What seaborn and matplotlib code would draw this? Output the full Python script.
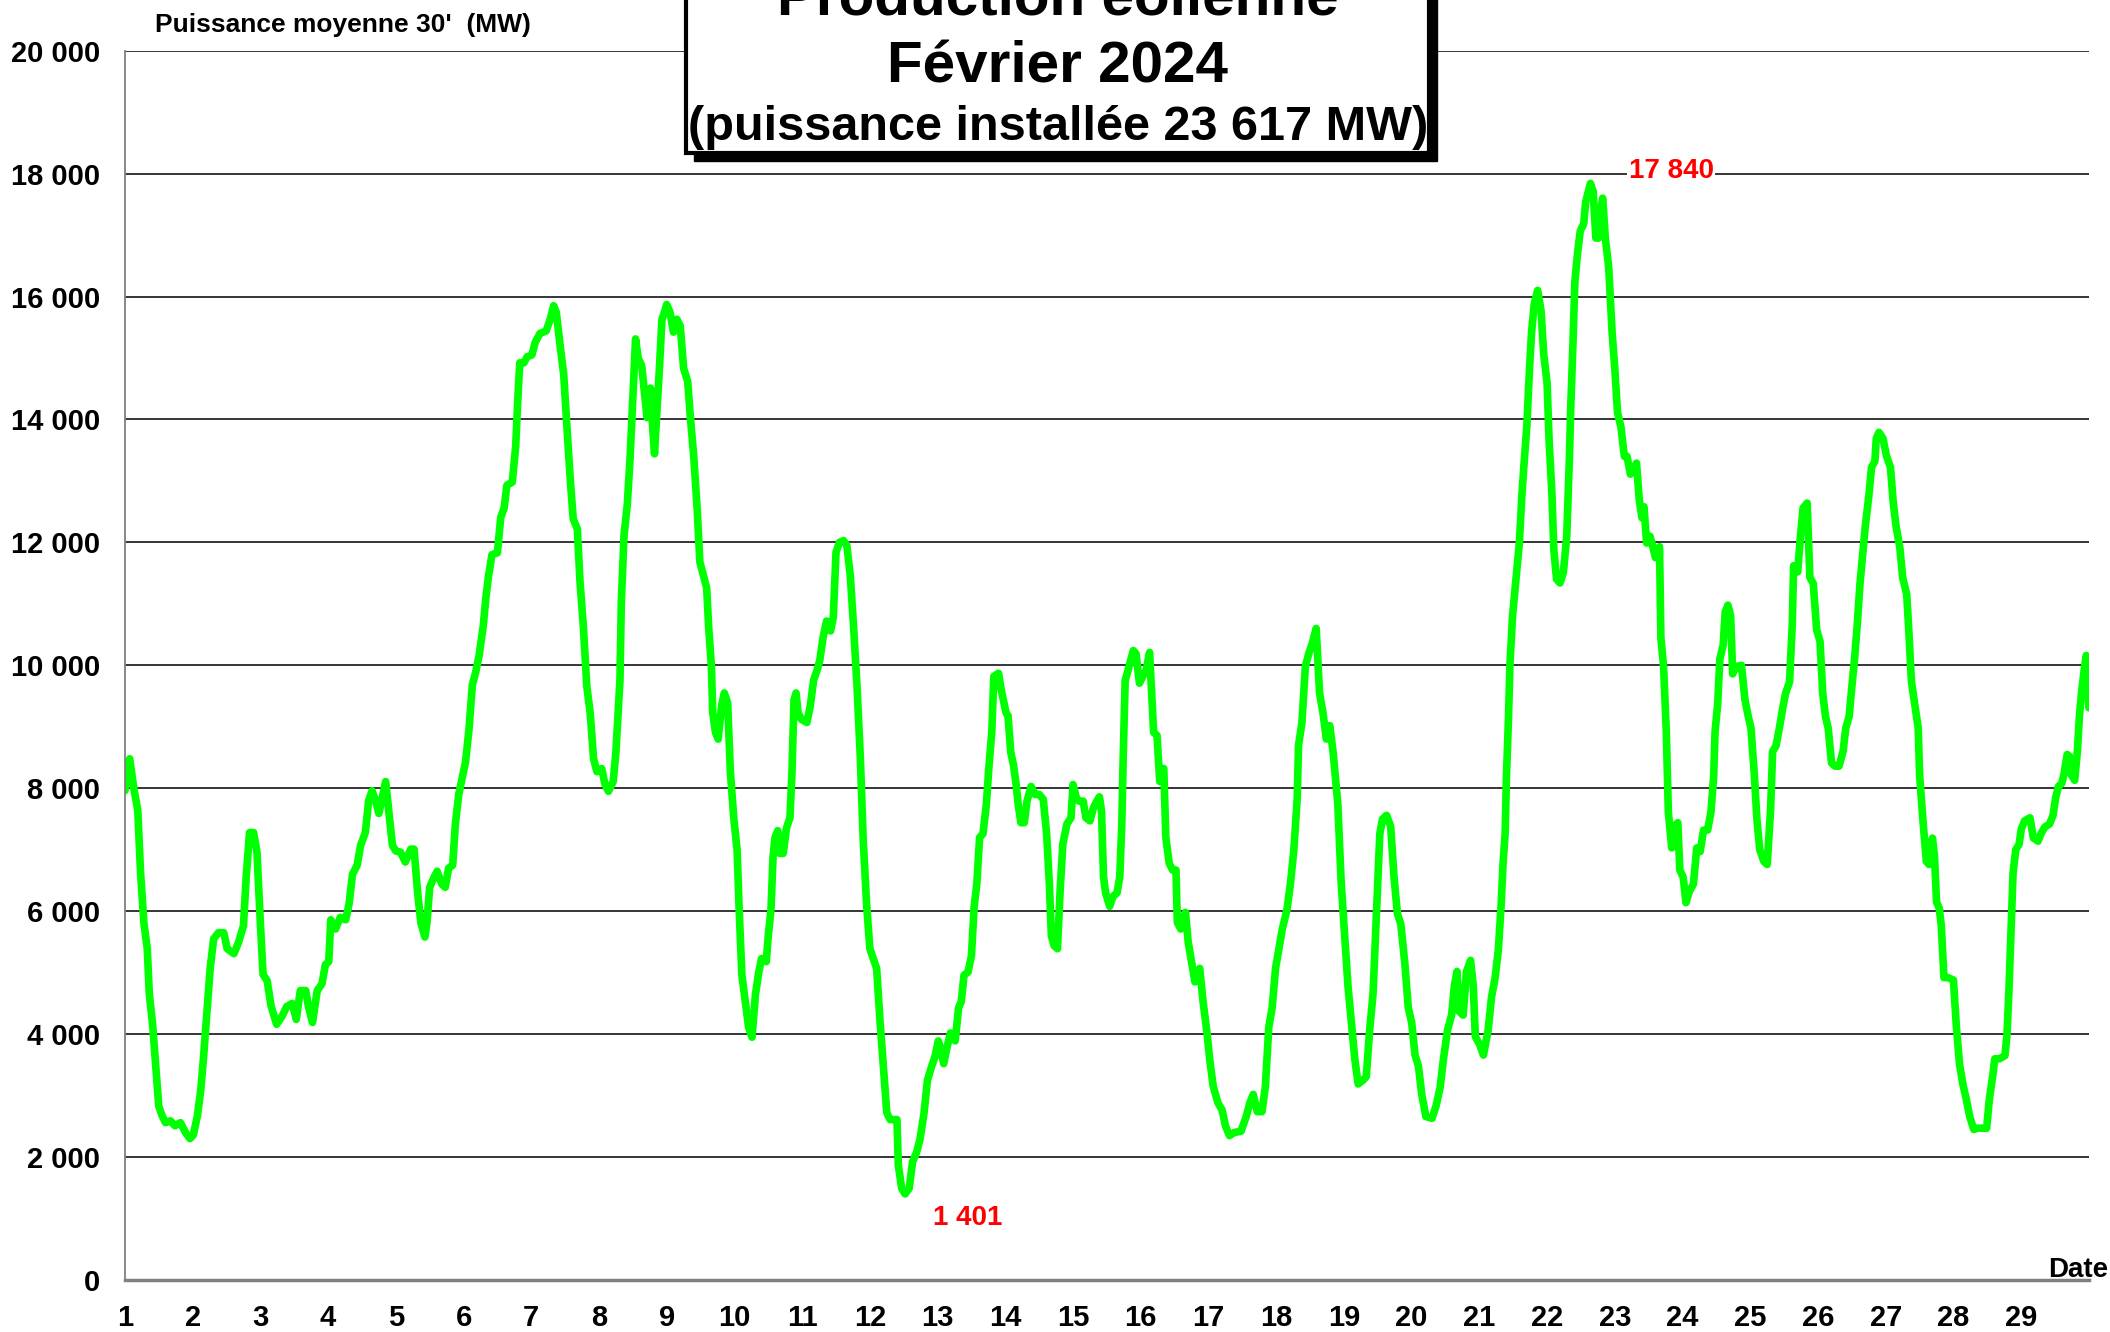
import matplotlib
matplotlib.use("Agg")
import matplotlib.pyplot as plt
from matplotlib.patches import Rectangle
from matplotlib.ticker import FuncFormatter, MultipleLocator
import pandas as pd
import seaborn as sns

# Wind output, (day of month, MW), one list per week
week1 = [
    (1.00, 7960), (1.07, 8480), (1.13, 8010), (1.19, 7640), (1.23, 6650), (1.28, 5810),
    (1.33, 5390), (1.36, 4660), (1.41, 4140), (1.46, 3400), (1.50, 2830), (1.55, 2670),
    (1.60, 2560), (1.67, 2590), (1.74, 2510), (1.82, 2560), (1.89, 2410), (1.96, 2300),
    (2.01, 2360), (2.07, 2670), (2.12, 3090), (2.16, 3610), (2.21, 4350), (2.26, 5080),
    (2.31, 5550), (2.38, 5650), (2.46, 5650), (2.51, 5390), (2.61, 5310), (2.68, 5500),
    (2.75, 5760), (2.79, 6540), (2.84, 7280), (2.90, 7280), (2.95, 6960), (3.00, 5810),
    (3.04, 4970), (3.10, 4870), (3.16, 4450), (3.24, 4160), (3.32, 4290), (3.39, 4450),
    (3.47, 4500), (3.53, 4240), (3.59, 4710), (3.67, 4710), (3.71, 4450), (3.77, 4190),
    (3.84, 4710), (3.91, 4820), (3.96, 5130), (4.01, 5180), (4.04, 5860), (4.11, 5710),
    (4.18, 5900), (4.26, 5860), (4.31, 6120), (4.36, 6600), (4.43, 6750), (4.48, 7070),
    (4.55, 7280), (4.60, 7800), (4.65, 7960), (4.70, 7800), (4.75, 7590), (4.80, 7850),
    (4.85, 8110), (4.90, 7590), (4.95, 7070), (5.00, 6980), (5.07, 6960), (5.14, 6800),
    (5.22, 7010), (5.27, 7010), (5.32, 6330), (5.37, 5810), (5.43, 5580), (5.46, 5810),
    (5.50, 6390), (5.56, 6540), (5.61, 6650), (5.68, 6440), (5.73, 6390), (5.78, 6700),
    (5.84, 6750), (5.88, 7430), (5.93, 7900), (5.98, 8170), (6.03, 8430), (6.08, 8950),
    (6.13, 9680), (6.18, 9890), (6.23, 10160), (6.29, 10630), (6.33, 11100), (6.37, 11460),
    (6.42, 11800), (6.50, 11830), (6.55, 12410), (6.60, 12560), (6.64, 12930), (6.72, 12980),
    (6.77, 13560), (6.80, 14290), (6.83, 14920), (6.89, 14920), (6.94, 15020), (7.01, 15050),
    (7.06, 15260), (7.13, 15400), (7.22, 15440), (7.28, 15630), (7.33, 15850), (7.37, 15740),
    (7.42, 15260), (7.48, 14720), (7.53, 13820), (7.58, 12960), (7.62, 12380), (7.68, 12220),
    (7.72, 11360), (7.77, 10620), (7.82, 9660), (7.87, 9230), (7.92, 8480), (7.97, 8270),
]
week2 = [
    (8.04, 8320), (8.09, 8060), (8.14, 7950), (8.21, 8110), (8.25, 8590), (8.31, 9760),
    (8.33, 11040), (8.37, 12110), (8.42, 12640), (8.46, 13390), (8.50, 14350), (8.54, 15310),
    (8.58, 14990), (8.63, 14880), (8.67, 14460), (8.71, 14030), (8.76, 14510), (8.79, 13920),
    (8.82, 13440), (8.85, 14030), (8.89, 14780), (8.93, 15630), (8.96, 15720), (9.00, 15870),
    (9.05, 15740), (9.10, 15420), (9.15, 15630), (9.20, 15520), (9.25, 14830), (9.31, 14620),
    (9.35, 14030), (9.40, 13390), (9.45, 12540), (9.49, 11680), (9.54, 11470), (9.59, 11260),
    (9.62, 10620), (9.66, 9980), (9.68, 9230), (9.72, 8910), (9.76, 8800), (9.81, 9340),
    (9.85, 9550), (9.90, 9390), (9.94, 8270), (9.99, 7520), (10.04, 6990), (10.07, 6030),
    (10.11, 4960), (10.16, 4530), (10.21, 4110), (10.26, 3950), (10.31, 4640), (10.36, 5010),
    (10.40, 5230), (10.47, 5180), (10.50, 5600), (10.54, 6030), (10.57, 6880), (10.60, 7200),
    (10.64, 7310), (10.67, 6940), (10.72, 6940), (10.77, 7360), (10.82, 7520), (10.85, 8270),
    (10.88, 9440), (10.91, 9550), (10.94, 9230), (10.99, 9120), (11.07, 9070), (11.12, 9340),
    (11.17, 9760), (11.22, 9920), (11.26, 10080), (11.31, 10460), (11.36, 10720), (11.42, 10560),
    (11.46, 10780), (11.50, 11840), (11.55, 12000), (11.61, 12030), (11.66, 11950), (11.71, 11470),
    (11.76, 10620), (11.81, 9660), (11.86, 8480), (11.90, 7200), (11.95, 6140), (12.00, 5390),
    (12.05, 5230), (12.10, 5070), (12.15, 4210), (12.20, 3470), (12.25, 2720), (12.30, 2610),
    (12.40, 2610), (12.42, 1870), (12.47, 1490), (12.52, 1401), (12.58, 1490), (12.63, 1920),
    (12.69, 2080), (12.74, 2290), (12.80, 2720), (12.85, 3250), (12.91, 3470), (12.96, 3630),
    (13.01, 3890), (13.04, 3790), (13.09, 3520), (13.14, 3790), (13.19, 4020), (13.26, 3890),
    (13.31, 4430), (13.35, 4530), (13.39, 4960), (13.45, 5010), (13.50, 5280), (13.54, 6080),
    (13.58, 6450), (13.62, 7200), (13.67, 7260), (13.72, 7740), (13.76, 8380), (13.80, 8910),
    (13.83, 9820), (13.90, 9870), (13.94, 9600), (13.97, 9440), (14.01, 9230), (14.04, 9180),
    (14.08, 8590), (14.12, 8380), (14.16, 8060), (14.19, 7740), (14.23, 7440), (14.28, 7440),
    (14.32, 7790), (14.38, 8030), (14.44, 7900), (14.50, 7900), (14.56, 7820), (14.61, 7260),
    (14.65, 6450), (14.68, 5600), (14.72, 5440), (14.77, 5390), (14.81, 6350), (14.85, 7100),
    (14.91, 7420), (14.97, 7520),
]
week3 = [
    (15.00, 8060), (15.05, 7840), (15.09, 7790), (15.15, 7790), (15.19, 7520), (15.25, 7470),
    (15.30, 7680), (15.35, 7790), (15.39, 7860), (15.42, 7630), (15.45, 6560), (15.48, 6300),
    (15.54, 6080), (15.59, 6240), (15.65, 6300), (15.69, 6560), (15.72, 7420), (15.74, 8480),
    (15.77, 9760), (15.80, 9870), (15.85, 10080), (15.89, 10240), (15.93, 10190), (15.98, 9710),
    (16.03, 9820), (16.08, 9920), (16.13, 10210), (16.16, 9550), (16.19, 8910), (16.24, 8860),
    (16.28, 8110), (16.31, 8320), (16.34, 8320), (16.37, 7200), (16.42, 6780), (16.47, 6670),
    (16.52, 6670), (16.54, 5820), (16.59, 5710), (16.66, 5980), (16.70, 5500), (16.75, 5180),
    (16.80, 4850), (16.87, 5070), (16.92, 4530), (16.98, 4000), (17.02, 3570), (17.07, 3150),
    (17.14, 2880), (17.20, 2770), (17.25, 2510), (17.31, 2350), (17.38, 2400), (17.48, 2420),
    (17.56, 2670), (17.61, 2880), (17.66, 3020), (17.72, 2740), (17.79, 2740), (17.84, 3150),
    (17.89, 4110), (17.94, 4430), (17.99, 5070), (18.04, 5390), (18.09, 5710), (18.16, 6030),
    (18.21, 6450), (18.26, 6990), (18.31, 7840), (18.33, 8700), (18.38, 9070), (18.43, 9980),
    (18.48, 10190), (18.53, 10350), (18.59, 10600), (18.64, 9550), (18.69, 9230), (18.74, 8800),
    (18.79, 9020), (18.84, 8590), (18.91, 7740), (18.96, 6450), (19.01, 5610), (19.06, 4780),
    (19.11, 4190), (19.16, 3600), (19.21, 3190), (19.28, 3250), (19.33, 3310), (19.38, 4070),
    (19.43, 4660), (19.48, 5960), (19.53, 7260), (19.57, 7500), (19.63, 7560), (19.69, 7380),
    (19.74, 6550), (19.79, 5960), (19.84, 5790), (19.90, 5140), (19.95, 4430), (20.00, 4190),
    (20.05, 3660), (20.10, 3480), (20.15, 3010), (20.21, 2660), (20.30, 2630), (20.36, 2830),
    (20.42, 3130), (20.47, 3600), (20.53, 4070), (20.59, 4310), (20.63, 4780), (20.67, 5020),
    (20.70, 4370), (20.76, 4310), (20.81, 5020), (20.87, 5200), (20.91, 4780), (20.94, 3960),
    (21.00, 3840), (21.06, 3660), (21.13, 4070), (21.18, 4610), (21.23, 4900), (21.28, 5370),
    (21.32, 6080), (21.35, 6790), (21.38, 7260), (21.40, 8210), (21.43, 9150), (21.45, 9980),
    (21.49, 10810), (21.53, 11280), (21.56, 11630), (21.59, 11990), (21.63, 12810), (21.66, 13290),
    (21.70, 13880), (21.74, 14820), (21.77, 15410), (21.81, 15880), (21.86, 16100), (21.91, 15770),
    (21.95, 15060),
]
week4 = [
    (22.00, 14590), (22.03, 13640), (22.07, 12810), (22.10, 11870), (22.14, 11400), (22.19, 11340),
    (22.24, 11510), (22.29, 12100), (22.33, 13400), (22.35, 14230), (22.38, 15180), (22.41, 16240),
    (22.45, 16710), (22.49, 17070), (22.54, 17180), (22.57, 17540), (22.64, 17840), (22.68, 17710),
    (22.72, 16950), (22.76, 16950), (22.78, 17300), (22.82, 17600), (22.86, 16950), (22.91, 16470),
    (22.96, 15410), (23.00, 14820), (23.04, 14110), (23.09, 13880), (23.14, 13400), (23.18, 13400),
    (23.23, 13110), (23.28, 13170), (23.32, 13290), (23.36, 12700), (23.40, 12400), (23.43, 12580),
    (23.47, 11990), (23.52, 12100), (23.56, 11930), (23.60, 11750), (23.66, 11930), (23.68, 10450),
    (23.72, 9980), (23.76, 8920), (23.79, 7620), (23.84, 7030), (23.88, 7380), (23.93, 7440),
    (23.96, 6670), (24.01, 6550), (24.05, 6140), (24.10, 6320), (24.16, 6440), (24.21, 7030),
    (24.26, 6970), (24.31, 7320), (24.37, 7320), (24.42, 7620), (24.46, 8210), (24.48, 8920),
    (24.52, 9390), (24.55, 10100), (24.60, 10330), (24.63, 10870), (24.67, 10980), (24.71, 10810),
    (24.74, 9860), (24.79, 9980), (24.87, 10000), (24.92, 9450), (24.97, 9170), (25.01, 8980),
    (25.06, 8220), (25.10, 7470), (25.14, 7000), (25.20, 6810), (25.25, 6760), (25.30, 7660),
    (25.33, 8600), (25.38, 8690), (25.43, 8980), (25.48, 9310), (25.52, 9540), (25.58, 9730),
    (25.62, 10670), (25.64, 11620), (25.70, 11520), (25.74, 12090), (25.78, 12560), (25.84, 12640),
    (25.88, 11430), (25.93, 11330), (25.98, 10580), (26.03, 10390), (26.07, 9540), (26.11, 9170),
    (26.15, 8980), (26.20, 8410), (26.25, 8360), (26.31, 8360), (26.37, 8600), (26.41, 8980),
    (26.46, 9170), (26.49, 9540), (26.54, 10110), (26.58, 10670), (26.62, 11330), (26.66, 11810),
    (26.70, 12280), (26.75, 12750), (26.79, 13220), (26.84, 13320), (26.86, 13690), (26.90, 13790),
    (26.96, 13690), (27.01, 13410), (27.07, 13220), (27.11, 12660), (27.15, 12280), (27.21, 11900),
    (27.25, 11430), (27.31, 11150), (27.34, 10580), (27.38, 9730), (27.43, 9350), (27.48, 8980),
    (27.50, 8220), (27.55, 7470), (27.60, 6810), (27.64, 6760), (27.69, 7190), (27.72, 6900),
    (27.75, 6150), (27.79, 6050), (27.82, 5770), (27.86, 4920), (27.92, 4920), (28.00, 4880),
    (28.04, 4170), (28.09, 3510), (28.14, 3180), (28.19, 2940), (28.24, 2660), (28.30, 2450),
    (28.36, 2470), (28.44, 2470), (28.49, 2470), (28.53, 2940), (28.58, 3320), (28.61, 3600),
    (28.68, 3600), (28.76, 3650), (28.79, 3980), (28.82, 4730), (28.86, 5960), (28.88, 6620),
    (28.92, 7000), (28.97, 7090), (29.00, 7330), (29.05, 7470), (29.13, 7520), (29.18, 7190),
    (29.25, 7140), (29.30, 7280), (29.35, 7370), (29.42, 7420), (29.47, 7560), (29.51, 7850),
    (29.55, 8030), (29.60, 8080), (29.63, 8220), (29.68, 8550), (29.72, 8510), (29.74, 8220),
    (29.79, 8130), (29.83, 8600), (29.86, 9170), (29.89, 9540), (29.93, 9920), (29.96, 10160),
    (29.98, 10010), (30.00, 9310),
]

title_lines = ["Production éolienne", "Février 2024", "(puissance installée 23 617 MW)"]
y_title = "Puissance moyenne 30'  (MW)"
x_title = "Date"
day_labels = list(range(1, 30))

df = pd.DataFrame(week1 + week2 + week3 + week4, columns=["day", "mw"])


def fmt_mw(v, pos=None):
    return f"{v:,.0f}".replace(",", " ")


sns.set_style("white")
plt.rcParams["font.family"] = ["Liberation Sans", "DejaVu Sans"]
plt.rcParams["font.weight"] = "bold"
plt.rcParams["text.color"] = "black"

fig = plt.figure(figsize=(21.1, 13.32), dpi=100)
ax = fig.add_axes([0.0592, 0.0390, 0.9308, 0.9230])

sns.lineplot(data=df, x="day", y="mw", color="#00ff00", linewidth=5.5, ax=ax, legend=False)

ax.set_xlim(1, 30)
ax.set_ylim(0, 20000)
ax.set_xlabel("")
ax.set_ylabel("")

# axes styling
ax.yaxis.set_major_locator(MultipleLocator(2000))
ax.yaxis.set_major_formatter(FuncFormatter(fmt_mw))
ax.yaxis.grid(True, color="black", linewidth=1.1)
ax.xaxis.grid(False)
ax.set_xticks(range(1, 31))
ax.set_xticklabels([str(d) for d in day_labels] + [""])
ax.xaxis.set_minor_locator(MultipleLocator(0.5))

for s in ["top", "right"]:
    ax.spines[s].set_visible(False)
ax.spines["left"].set_color("#808080")
ax.spines["left"].set_linewidth(1.3)
ax.spines["bottom"].set_color("#808080")
ax.spines["bottom"].set_linewidth(2.5)
ax.spines["bottom"].set_zorder(3)

ax.tick_params(axis="y", which="major", direction="out", length=7, width=1,
               color="#808080", pad=11, labelsize=21, labelcolor="black")
ax.tick_params(axis="x", which="major", direction="out", length=6, width=1,
               color="#404040", pad=11, labelsize=21, labelcolor="black")
ax.tick_params(axis="x", which="minor", direction="in", length=5, width=1,
               color="#404040")
for lbl in ax.get_xticklabels() + ax.get_yticklabels():
    lbl.set_fontweight("bold")

# max / min labels
imax = df["mw"].idxmax()
imin = df["mw"].idxmin()
ax.annotate(fmt_mw(df["mw"][imax]), xy=(df["day"][imax], df["mw"][imax]),
            xytext=(58, 9), textcoords="offset points", ha="center", va="center",
            color="red", fontsize=20, fontweight="bold",
            bbox=dict(facecolor="white", edgecolor="none", pad=1), zorder=5)
ax.annotate(fmt_mw(df["mw"][imin]), xy=(df["day"][imin], df["mw"][imin]),
            xytext=(45, -17), textcoords="offset points", ha="center", va="center",
            color="red", fontsize=20, fontweight="bold", zorder=5)

# axis titles
fig.text(0.0735, 0.976, y_title, ha="left", va="baseline", fontsize=19,
         fontweight="bold", color="black")
fig.text(0.999, 0.0413, x_title, ha="right", va="baseline", fontsize=20,
         fontweight="bold", color="black")

# title box with shadow
box_x, box_y, box_w, box_h = 0.3251, 0.8851, 0.3521, 0.2
fig.add_artist(Rectangle((box_x + 0.0038, box_y - 0.006), box_w, box_h,
                         transform=fig.transFigure, facecolor="black",
                         edgecolor="black", zorder=5))
fig.add_artist(Rectangle((box_x, box_y), box_w, box_h, transform=fig.transFigure,
                         facecolor="white", edgecolor="black", linewidth=3, zorder=6))
fig.text(0.5014, 0.988, title_lines[0], ha="center", va="baseline", fontsize=42,
         fontweight="bold", color="black", zorder=7)
fig.text(0.5014, 0.9377, title_lines[1], ha="center", va="baseline", fontsize=42,
         fontweight="bold", color="black", zorder=7)
fig.text(0.5014, 0.8949, title_lines[2], ha="center", va="baseline", fontsize=35,
         fontweight="bold", color="black", zorder=7)

fig.savefig("out.png", dpi=100)
